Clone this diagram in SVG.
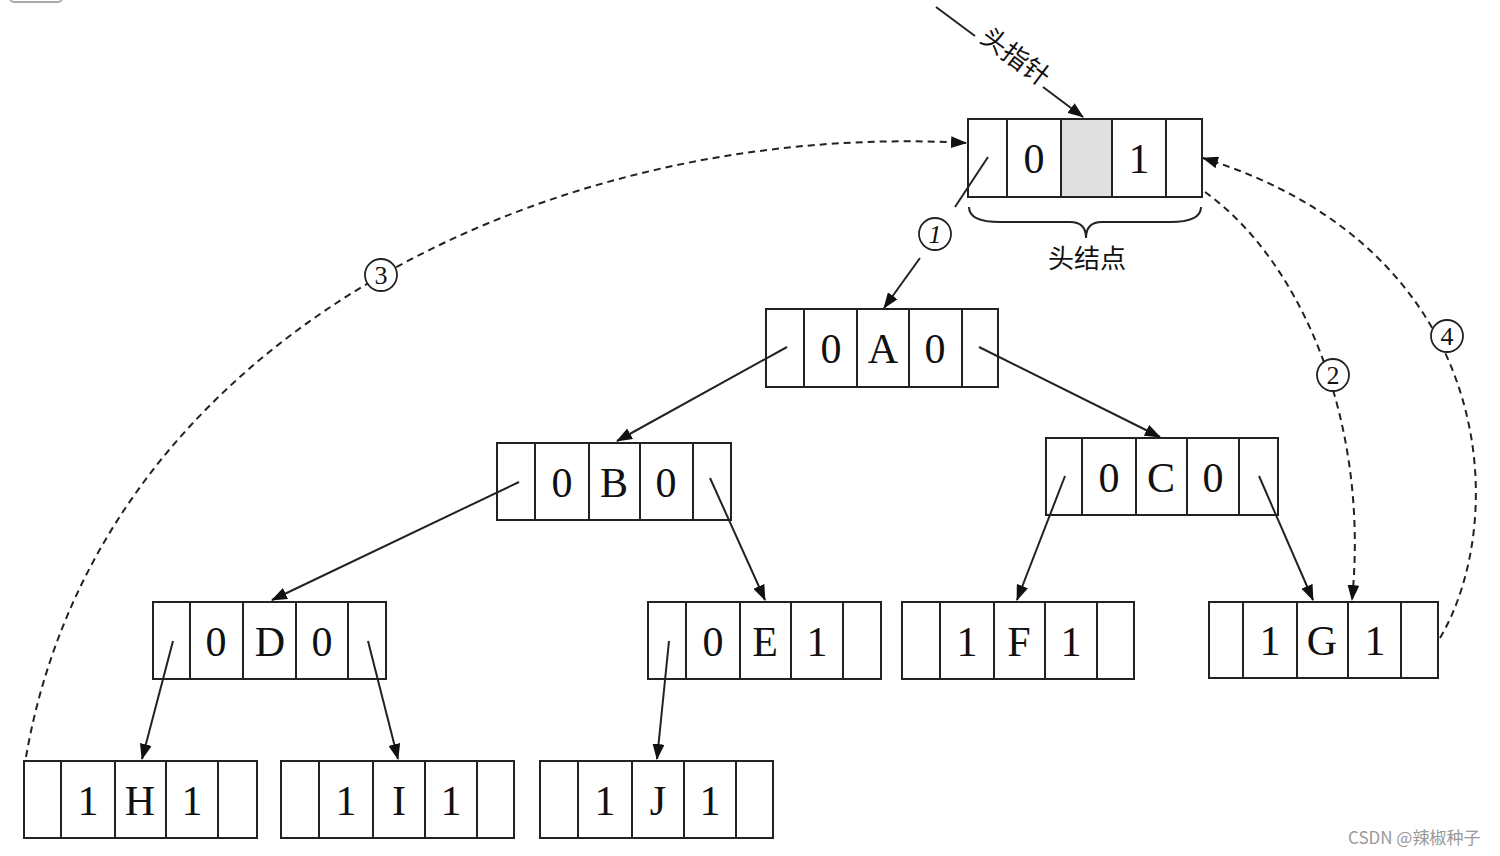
<svg xmlns="http://www.w3.org/2000/svg" width="1500" height="856" viewBox="0 0 1500 856">
<style>
.c{fill:#fff;stroke:#222;stroke-width:2}
.g{fill:#e0e0e0;stroke:#222;stroke-width:2}
.t{font-family:"Liberation Serif","Noto Serif CJK SC",serif;font-size:42px;fill:#111;text-anchor:middle}
.ln{stroke:#222;stroke-width:2;fill:none}
.dl{stroke:#222;stroke-width:2;fill:none;stroke-dasharray:7 5}
.cr{fill:#fff;stroke:#222;stroke-width:1.8}
.ct{font-family:"Liberation Serif",serif;font-size:26px;fill:#111;text-anchor:middle}
.zh{font-family:"Liberation Serif","Noto Sans CJK SC",sans-serif;font-size:26px;fill:#111;text-anchor:middle}
</style>
<defs>
<marker id="ah" viewBox="0 0 16 12" refX="15" refY="6" markerWidth="16" markerHeight="12" markerUnits="userSpaceOnUse" orient="auto">
<path d="M0,0 L16,6 L0,12 Z" fill="#111"/>
</marker>
</defs>
<rect x="10" y="-12" width="52" height="14" rx="4" fill="none" stroke="#aaa" stroke-width="2"/>
<g id="head">
<rect class="c" x="968" y="119" width="39" height="78"/>
<rect class="c" x="1007" y="119" width="54" height="78"/>
<rect class="g" x="1061" y="119" width="51" height="78"/>
<rect class="c" x="1112" y="119" width="54" height="78"/>
<rect class="c" x="1166" y="119" width="36" height="78"/>
<text class="t" x="1034" y="173">0</text>
<text class="t" x="1139" y="173">1</text>
<path class="ln" d="M969 207 Q969 222 1000 222 L1070 222 Q1086 222 1086 238 Q1086 222 1102 222 L1170 222 Q1201 222 1201 207" stroke-width="1.8"/>
<text class="zh" x="1087" y="268">头结点</text>
</g>
<g id="nA">
<rect class="c" x="766" y="309" width="38" height="78"/>
<rect class="c" x="804" y="309" width="53" height="78"/>
<rect class="c" x="857" y="309" width="52" height="78"/>
<rect class="c" x="909" y="309" width="53" height="78"/>
<rect class="c" x="962" y="309" width="36" height="78"/>
<text class="t" x="831" y="363">0</text>
<text class="t" x="883" y="363">A</text>
<text class="t" x="935" y="363">0</text>
</g>
<g id="nB">
<rect class="c" x="497" y="443" width="38" height="77"/>
<rect class="c" x="535" y="443" width="54" height="77"/>
<rect class="c" x="589" y="443" width="51" height="77"/>
<rect class="c" x="640" y="443" width="53" height="77"/>
<rect class="c" x="693" y="443" width="38" height="77"/>
<text class="t" x="562" y="497">0</text>
<text class="t" x="614" y="497">B</text>
<text class="t" x="666" y="497">0</text>
</g>
<g id="nC">
<rect class="c" x="1046" y="438" width="36" height="77"/>
<rect class="c" x="1082" y="438" width="54" height="77"/>
<rect class="c" x="1136" y="438" width="51" height="77"/>
<rect class="c" x="1187" y="438" width="52" height="77"/>
<rect class="c" x="1239" y="438" width="39" height="77"/>
<text class="t" x="1109" y="492">0</text>
<text class="t" x="1161" y="492">C</text>
<text class="t" x="1213" y="492">0</text>
</g>
<g id="nD">
<rect class="c" x="153" y="602" width="37" height="77"/>
<rect class="c" x="190" y="602" width="53" height="77"/>
<rect class="c" x="243" y="602" width="53" height="77"/>
<rect class="c" x="296" y="602" width="52" height="77"/>
<rect class="c" x="348" y="602" width="38" height="77"/>
<text class="t" x="216" y="656">0</text>
<text class="t" x="270" y="656">D</text>
<text class="t" x="322" y="656">0</text>
</g>
<g id="nE">
<rect class="c" x="648" y="602" width="38" height="77"/>
<rect class="c" x="686" y="602" width="54" height="77"/>
<rect class="c" x="740" y="602" width="51" height="77"/>
<rect class="c" x="791" y="602" width="52" height="77"/>
<rect class="c" x="843" y="602" width="38" height="77"/>
<text class="t" x="713" y="656">0</text>
<text class="t" x="765" y="656">E</text>
<text class="t" x="817" y="656">1</text>
</g>
<g id="nF">
<rect class="c" x="902" y="602" width="38" height="77"/>
<rect class="c" x="940" y="602" width="54" height="77"/>
<rect class="c" x="994" y="602" width="51" height="77"/>
<rect class="c" x="1045" y="602" width="52" height="77"/>
<rect class="c" x="1097" y="602" width="37" height="77"/>
<text class="t" x="967" y="656">1</text>
<text class="t" x="1019" y="656">F</text>
<text class="t" x="1071" y="656">1</text>
</g>
<g id="nG">
<rect class="c" x="1209" y="602" width="34" height="76"/>
<rect class="c" x="1243" y="602" width="54" height="76"/>
<rect class="c" x="1297" y="602" width="51" height="76"/>
<rect class="c" x="1348" y="602" width="53" height="76"/>
<rect class="c" x="1401" y="602" width="37" height="76"/>
<text class="t" x="1270" y="655">1</text>
<text class="t" x="1322" y="655">G</text>
<text class="t" x="1375" y="655">1</text>
</g>
<g id="nH">
<rect class="c" x="24" y="761" width="37" height="77"/>
<rect class="c" x="61" y="761" width="54" height="77"/>
<rect class="c" x="115" y="761" width="51" height="77"/>
<rect class="c" x="166" y="761" width="52" height="77"/>
<rect class="c" x="218" y="761" width="39" height="77"/>
<text class="t" x="88" y="815">1</text>
<text class="t" x="140" y="815">H</text>
<text class="t" x="192" y="815">1</text>
</g>
<g id="nI">
<rect class="c" x="281" y="761" width="38" height="77"/>
<rect class="c" x="319" y="761" width="54" height="77"/>
<rect class="c" x="373" y="761" width="52" height="77"/>
<rect class="c" x="425" y="761" width="52" height="77"/>
<rect class="c" x="477" y="761" width="37" height="77"/>
<text class="t" x="346" y="815">1</text>
<text class="t" x="399" y="815">I</text>
<text class="t" x="451" y="815">1</text>
</g>
<g id="nJ">
<rect class="c" x="540" y="761" width="38" height="77"/>
<rect class="c" x="578" y="761" width="54" height="77"/>
<rect class="c" x="632" y="761" width="52" height="77"/>
<rect class="c" x="684" y="761" width="52" height="77"/>
<rect class="c" x="736" y="761" width="37" height="77"/>
<text class="t" x="605" y="815">1</text>
<text class="t" x="658" y="815">J</text>
<text class="t" x="710" y="815">1</text>
</g>
<g id="connectors">
<line class="ln" x1="936" y1="7" x2="975" y2="36"/>
<line class="ln" x1="1043" y1="87" x2="1083" y2="117" marker-end="url(#ah)"/>
<text class="zh" transform="translate(1010,64) rotate(37)">头指针</text>
<line class="ln" x1="988" y1="157" x2="955" y2="207"/>
<line class="ln" x1="920" y1="258" x2="884" y2="308" marker-end="url(#ah)"/>
<line class="ln" x1="787" y1="347" x2="617" y2="441" marker-end="url(#ah)"/>
<line class="ln" x1="979" y1="347" x2="1160" y2="437" marker-end="url(#ah)"/>
<line class="ln" x1="519" y1="482" x2="272" y2="600" marker-end="url(#ah)"/>
<line class="ln" x1="710" y1="478" x2="765" y2="600" marker-end="url(#ah)"/>
<line class="ln" x1="1065" y1="476" x2="1017" y2="600" marker-end="url(#ah)"/>
<line class="ln" x1="1259" y1="476" x2="1313" y2="600" marker-end="url(#ah)"/>
<line class="ln" x1="173" y1="641" x2="142" y2="759" marker-end="url(#ah)"/>
<line class="ln" x1="368" y1="641" x2="398" y2="759" marker-end="url(#ah)"/>
<line class="ln" x1="669" y1="641" x2="657" y2="759" marker-end="url(#ah)"/>
<path class="dl" d="M26 757 C100 330 560 120 966 143" marker-end="url(#ah)"/>
<path class="dl" d="M1205 192 C1300 260 1370 420 1352 600" marker-end="url(#ah)"/>
<path class="dl" d="M1440 638 C1510 520 1500 250 1203 158" marker-end="url(#ah)"/>
<circle class="cr" cx="935" cy="234" r="16"/>
<text class="ct" x="935" y="243" font-style="italic">1</text>
<circle class="cr" cx="381" cy="275" r="16"/>
<text class="ct" x="381" y="284">3</text>
<circle class="cr" cx="1333" cy="375" r="16"/>
<text class="ct" x="1333" y="384">2</text>
<circle class="cr" cx="1447" cy="336" r="16"/>
<text class="ct" x="1447" y="345">4</text>
</g>
<text x="1348" y="844" font-family="'Noto Sans CJK SC','Liberation Sans',sans-serif" font-size="17" fill="#999">CSDN @辣椒种子</text>
</svg>
